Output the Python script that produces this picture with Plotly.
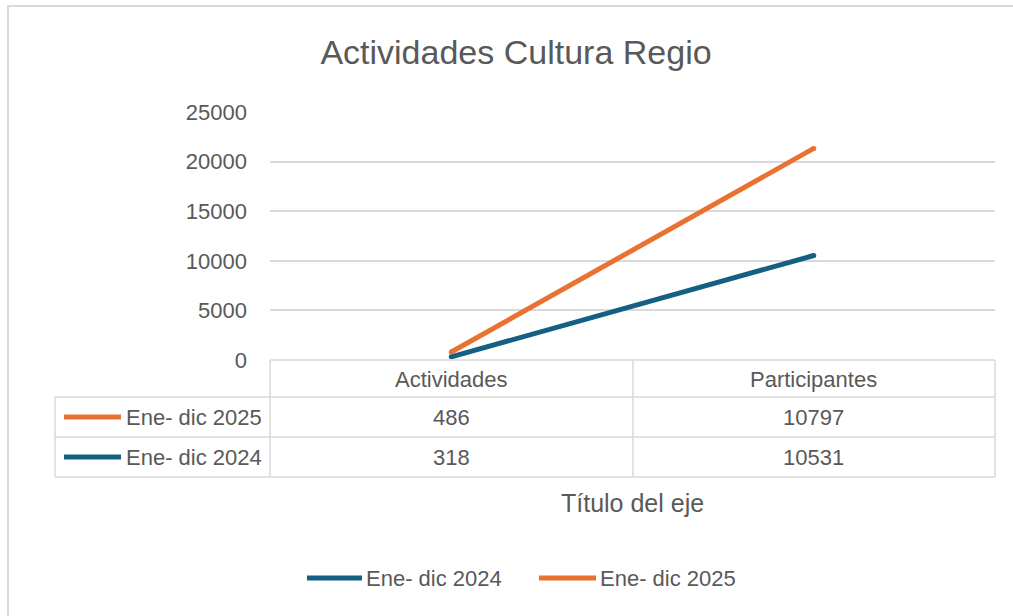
import plotly.graph_objects as go

# ---- data ----
categories = ["Actividades", "Participantes"]
series_names = ["Ene- dic 2024", "Ene- dic 2025"]
values_2024 = [318, 10531]
values_2025 = [486, 10797]
y_ticks = [0, 5000, 10000, 15000, 20000, 25000]

COL_2024 = "#156082"
COL_2025 = "#E97132"
GRID = "#D9D9D9"
TXT = "#595959"
FONT = "Liberation Sans, Arial, sans-serif"

W, H = 1013, 616


def px(x):
    return x / W


def py(y):
    return 1 - y / H


fig = go.Figure()
for name, vals, col in [(series_names[0], values_2024, COL_2024),
                        (series_names[1], values_2025, COL_2025)]:
    fig.add_trace(go.Scatter(
        x=categories, y=vals, name=name, mode="lines+markers",
        stackgroup="one", fill="none",
        line=dict(color=col, width=5),
        marker=dict(color=col, size=5),
        showlegend=False, hoverinfo="x+y+name",
    ))

shapes = []


def hline(x0, x1, y, color=GRID, width=1.5):
    shapes.append(dict(type="line", xref="paper", yref="paper",
                       x0=px(x0), x1=px(x1), y0=py(y), y1=py(y),
                       line=dict(color=color, width=width)))


def vline(x, y0, y1, color=GRID, width=1.5):
    shapes.append(dict(type="line", xref="paper", yref="paper",
                       x0=px(x), x1=px(x), y0=py(y0), y1=py(y1),
                       line=dict(color=color, width=width)))


# chart frame
hline(7, 1013, 6, width=2)
vline(8, 6, 616, width=2)

# data table grid
hline(270, 995, 360)
hline(55, 995, 397)
hline(55, 995, 437)
hline(55, 995, 477)
vline(270, 360, 477)
vline(633, 360, 477)
vline(995, 360, 477)
vline(55, 397, 477)

annotations = []


def text(x, y, s, size=22, xref="paper", xanchor="center"):
    annotations.append(dict(x=x, xref=xref, y=py(y), yref="paper",
                            text=s, showarrow=False,
                            xanchor=xanchor, yanchor="middle",
                            font=dict(family=FONT, size=size, color=TXT)))


# header row
for c in categories:
    text(c, 379, c, xref="x")

rows = [(series_names[1], values_2025, COL_2025, 417),
        (series_names[0], values_2024, COL_2024, 457)]
for name, vals, col, yc in rows:
    # legend key inside table
    shapes.append(dict(type="line", xref="paper", yref="paper",
                       x0=px(64), x1=px(121), y0=py(yc), y1=py(yc),
                       line=dict(color=col, width=5)))
    text(px(124), yc, name, xanchor="left")
    for c, v in zip(categories, vals):
        text(c, yc, str(v), xref="x")

# axis title
text(px(632), 503, "Título del eje", size=25)

# bottom legend
for name, col, lx0, lx1 in [(series_names[0], COL_2024, 307, 362),
                            (series_names[1], COL_2025, 539, 596)]:
    shapes.append(dict(type="line", xref="paper", yref="paper",
                       x0=px(lx0), x1=px(lx1), y0=py(578), y1=py(578),
                       line=dict(color=col, width=5)))
    text(px(lx1 + 2), 578, name, xanchor="left")

fig.update_layout(
    width=W, height=H,
    autosize=False,
    margin=dict(l=0, r=0, t=0, b=0, pad=0, autoexpand=False),
    paper_bgcolor="white", plot_bgcolor="white",
    title=dict(text="Actividades Cultura Regio", x=516 / W, xanchor="center",
               y=py(52), yanchor="middle", automargin=False,
               font=dict(family=FONT, size=34, color=TXT)),
    xaxis=dict(domain=[px(270), px(995)], range=[-0.5, 1.5],
               showticklabels=False, showgrid=False, zeroline=False,
               showline=False, ticks="", fixedrange=True, automargin=False),
    yaxis=dict(domain=[py(360), py(112)], range=[0, 25000],
               tickvals=y_ticks, ticktext=[str(t) for t in y_ticks],
               showgrid=True, gridcolor=GRID, gridwidth=1.5,
               zeroline=False, showline=False, ticks="",
               ticklabelstandoff=22, automargin=False, fixedrange=True,
               tickfont=dict(family=FONT, size=22, color=TXT)),
    shapes=shapes, annotations=annotations,
    showlegend=False,
)

fig.write_html("out.html")
